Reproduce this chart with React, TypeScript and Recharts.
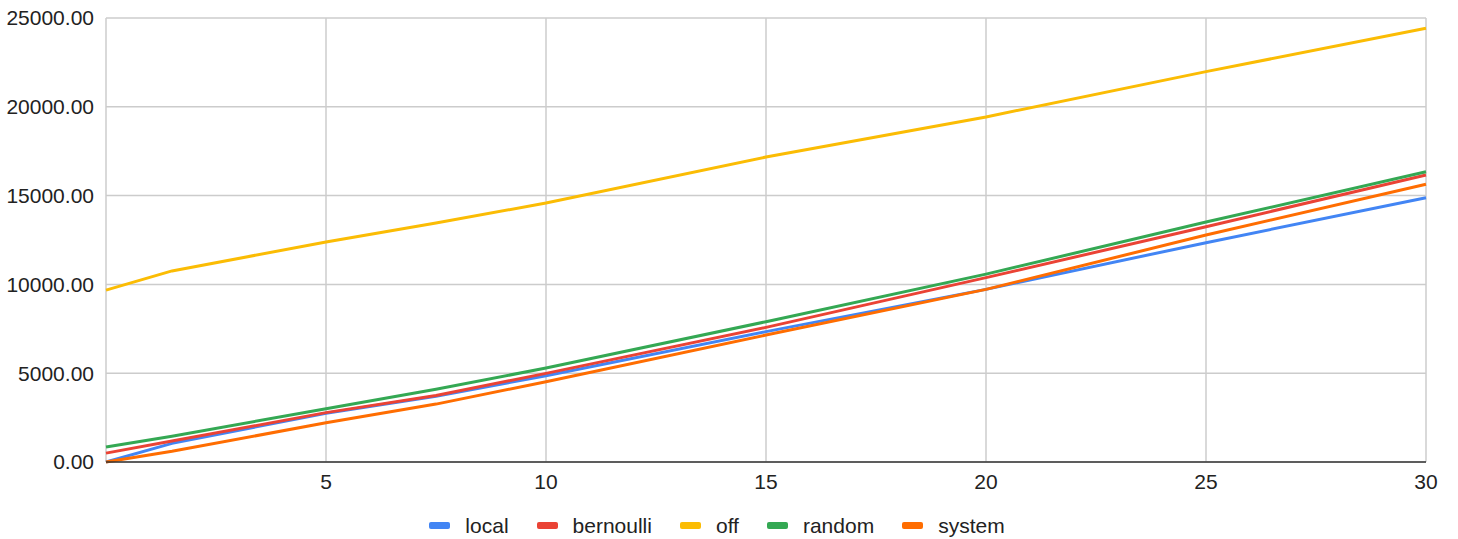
import { CartesianGrid, Legend, Line, LineChart, XAxis, YAxis } from "recharts";

const xValues = [0, 1.5, 5, 7.5, 10, 15, 20, 25, 30];
const local = [0, 1050, 2750, 3700, 4860, 7340, 9720, 12350, 14880];
const bernoulli = [500, 1180, 2780, 3750, 4990, 7580, 10380, 13250, 16160];
const off = [9680, 10760, 12390, 13460, 14580, 17170, 19430, 21980, 24420];
const random = [840, 1450, 3000, 4100, 5290, 7900, 10580, 13510, 16340];
const system = [0, 600, 2210, 3260, 4520, 7150, 9720, 12780, 15640];
const xTicks = [5, 10, 15, 20, 25, 30];
const yTicks = [0, 5000, 10000, 15000, 20000, 25000];

const series = [
  { key: "local", color: "#4285f4", values: local },
  { key: "bernoulli", color: "#ea4335", values: bernoulli },
  { key: "off", color: "#fbbc04", values: off },
  { key: "random", color: "#34a853", values: random },
  { key: "system", color: "#ff6d01", values: system },
];

const data = xValues.map((x, i) => {
  const row: Record<string, number> = { x };
  series.forEach((s) => (row[s.key] = s.values[i]));
  return row;
});

const font = "'Liberation Sans', Arial, sans-serif";
const fontSize = 21;

function LegendContent() {
  return (
    <div
      style={{
        display: "flex",
        justifyContent: "center",
        alignItems: "center",
        height: 47,
        paddingTop: 20,
        boxSizing: "border-box",
        fontFamily: font,
        fontSize,
        lineHeight: "25px",
        color: "#222",
        transform: "translateX(4px)",
      }}
    >
      {series.map((s, i) => (
        <div
          key={s.key}
          style={{ display: "flex", alignItems: "center", marginLeft: i === 0 ? 0 : 28 }}
        >
          <span
            style={{
              display: "inline-block",
              width: 21,
              height: 7,
              borderRadius: 2,
              background: s.color,
              marginRight: 15,
            }}
          />
          <span>{s.key}</span>
        </div>
      ))}
    </div>
  );
}

export default function App() {
  return (
    <div style={{ position: "absolute", left: 0, top: 0, background: "#fff" }}>
      <LineChart width={1458} height={539} data={data} margin={{ top: 18, right: 32, bottom: 0, left: 0 }}>
        <CartesianGrid stroke="#cccccc" strokeWidth={1.5} vertical horizontal />
        <XAxis
          dataKey="x"
          type="number"
          domain={[0, 30]}
          ticks={xTicks}
          height={30}
          tickLine={false}
          axisLine={{ stroke: "#333", strokeWidth: 1.5 }}
          tick={{ fill: "#222", fontSize, fontFamily: font }}
          tickMargin={6}
        />
        <YAxis
          type="number"
          domain={[0, 25000]}
          ticks={yTicks}
          width={106}
          tickLine={false}
          axisLine={false}
          tick={{ fill: "#222", fontSize, fontFamily: font }}
          tickFormatter={(v) => Number(v).toFixed(2)}
          tickMargin={6}
        />
        <Legend verticalAlign="bottom" content={<LegendContent />} wrapperStyle={{ height: 47 }} />
        {series.map((s) => (
          <Line
            key={s.key}
            dataKey={s.key}
            stroke={s.color}
            strokeWidth={3}
            dot={false}
            type="linear"
            isAnimationActive={false}
          />
        ))}
      </LineChart>
    </div>
  );
}
